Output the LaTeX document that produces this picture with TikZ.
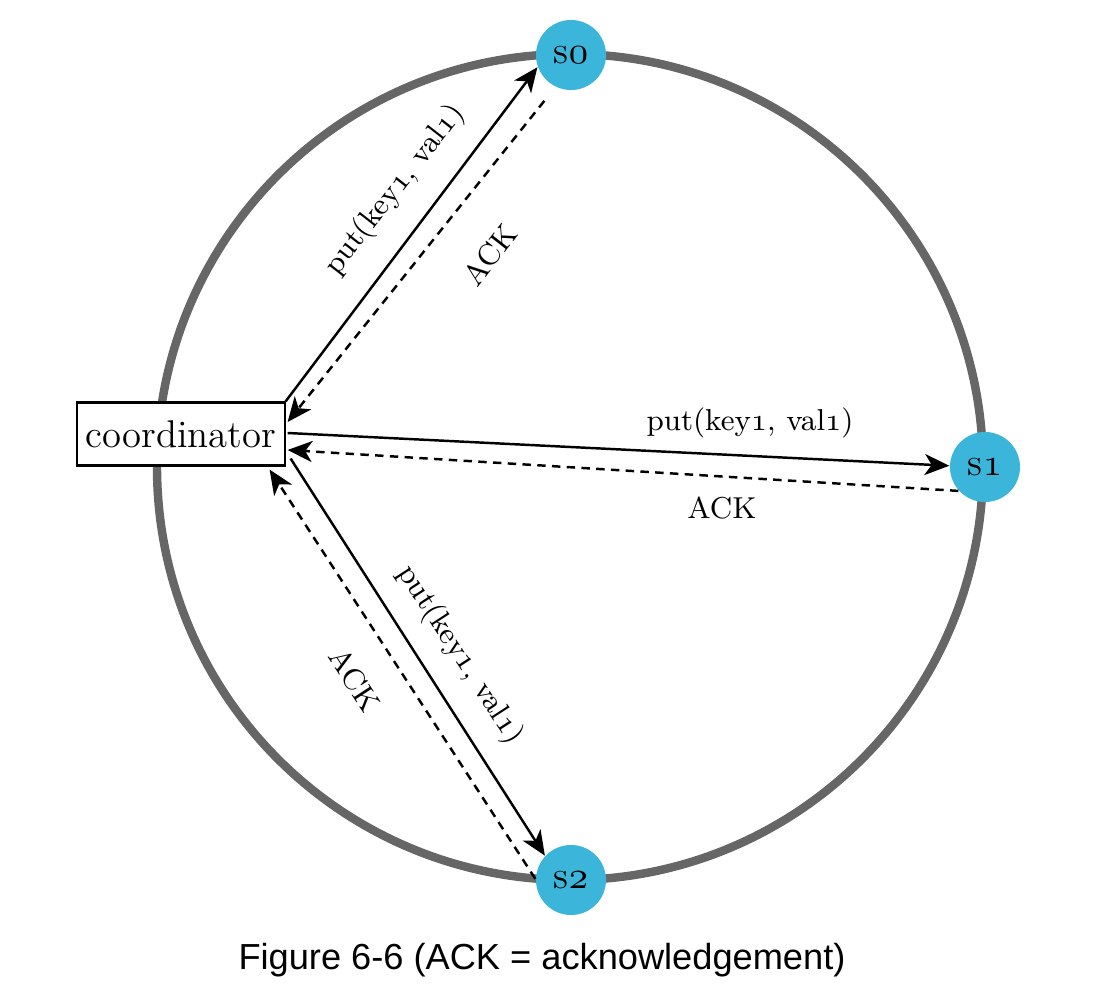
\documentclass[tikz,border=0pt]{standalone}
\usepackage{fontspec}
\newfontfamily\capfont{Liberation Sans}
\usetikzlibrary{arrows.meta}
\newcommand\osf[1]{{\usefont{OML}{cmm}{m}{it}#1}}
\begin{document}
\begin{tikzpicture}[x=0.01cm, y=0.01cm,
    srv/.style={circle, fill=colS, minimum size=0.7cm, inner sep=0pt, font=\fontsize{11}{13}\selectfont},
    put/.style={line width=0.7pt, -{Stealth[length=7pt, width=6pt, inset=2pt]}},
    ack/.style={line width=0.7pt, dash pattern=on 2.4pt off 1.8pt, -{Stealth[length=7pt, width=6pt, inset=2pt]}},
    lbl/.style={font=\fontsize{8.6}{10}\selectfont, inner sep=0pt}]
    \definecolor{colS}{HTML}{3BB5D9}
    \definecolor{colRing}{HTML}{666666}
    \useasboundingbox (0,0) rectangle (1102,-1000);

    % Ring
    \draw[colRing, line width=2.4pt] (570,-467) circle (413);

    % Servers and coordinator
    \node[srv] (s0) at (571,-55) {s\osf{0}};
    \node[srv] (s1) at (985,-467) {s\osf{1}};
    \node[srv] (s2) at (571,-880) {s\osf{2}};
    \node[draw, semithick, fill=white, minimum width=2.07cm, minimum height=0.63cm, inner sep=0pt,
          font=\fontsize{11}{13}\selectfont] (coord) at (181,-434) {coordinator};

    % Writes and acknowledgements
    \draw[put] (coord.north east) -- (s0.200);
    \draw[ack, shorten <=5pt] (s0.244) -- ([shift={(2,12)}]coord.east);
    \draw[put] ([shift={(2,1)}]coord.east) -- (s1.178);
    \draw[ack] (s1.222) -- ([shift={(2,-16)}]coord.east);
    \draw[put] ([shift={(5,8)}]coord.south east) -- (s2.137);
    \draw[ack] (s2.178) -- ([shift={(-16,-3)}]coord.south east);

    % Labels
    \node[lbl, rotate=52] (putA) at (395,-190) {put(key\osf{1}, val\osf{1})};
    \node[lbl, rotate=52] (ackA) at (490,-255) {ACK};
    \node[lbl] (putB) at (750,-423) {put(key\osf{1}, val\osf{1})};
    \node[lbl] (ackB) at (722,-508) {ACK};
    \node[lbl, rotate=-57] (putC) at (460,-655) {put(key\osf{1}, val\osf{1})};
    \node[lbl, rotate=-57] (ackC) at (355,-680) {ACK};

    % Caption
    \node[font=\capfont\fontsize{10.3}{12}\selectfont] (cap) at (542,-960) {Figure 6-6 (ACK = acknowledgement)};
\end{tikzpicture}
\end{document}
